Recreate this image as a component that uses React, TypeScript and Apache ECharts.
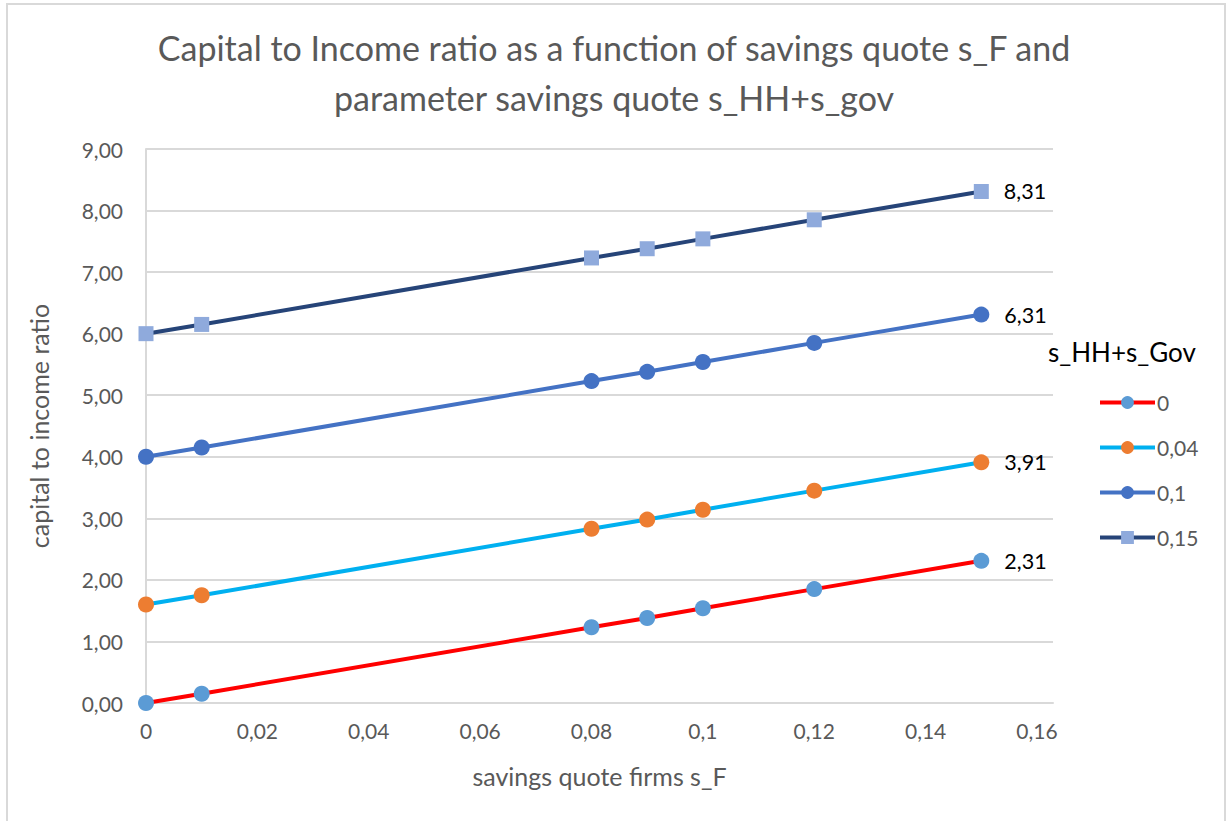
import React, { useEffect, useRef } from "react";
import * as echarts from "echarts";

const xValues = [0, 0.01, 0.08, 0.09, 0.1, 0.12, 0.15];
const xTicks = [0, 0.02, 0.04, 0.06, 0.08, 0.1, 0.12, 0.14, 0.16];
const seriesNames = ["0", "0,04", "0,1", "0,15"];
const s0 = [0, 0.15, 1.23, 1.38, 1.54, 1.85, 2.31];
const s004 = [1.6, 1.75, 2.83, 2.98, 3.14, 3.45, 3.91];
const s01 = [4.0, 4.15, 5.23, 5.38, 5.54, 5.85, 6.31];
const s015 = [6.0, 6.15, 7.23, 7.38, 7.54, 7.85, 8.31];
const seriesValues = [s0, s004, s01, s015];
const lineColors = ["#FF0000", "#00B0F0", "#4472C4", "#264478"];
const markerColors = ["#5B9BD5", "#ED7D31", "#4472C4", "#8FAADC"];
const symbols = ["circle", "circle", "circle", "rect"];

const FONT = "Lato, 'Open Sans', sans-serif";

export default function App() {
  const ref = useRef<HTMLDivElement>(null);
  useEffect(() => {
    if (!ref.current) return;
    const chart = echarts.init(ref.current, null, { renderer: "svg" });
    const series = seriesValues.map((vals, si) => ({
      name: seriesNames[si],
      type: "line",
      symbol: symbols[si],
      symbolSize: si === 3 ? 15 : 16,
      lineStyle: { color: lineColors[si], width: 4 },
      itemStyle: { color: markerColors[si] },
      z: 2 + si,
      data: vals.map((v, i) => {
        const item: any = { value: [xValues[i], v] };
        if (i === vals.length - 1) {
          item.label = {
            show: true,
            position: "right",
            distance: 15,
            formatter: () => v.toFixed(2).replace(".", ","),
            fontSize: 21.5,
            color: "#000",
            fontFamily: FONT,
          };
        }
        return item;
      }),
    }));
    const xLast = xTicks[xTicks.length - 1];
    chart.setOption({
      animation: false,
      backgroundColor: "#fff",
      textStyle: { fontFamily: FONT },
      title: {
        text: "Capital to Income ratio as a function of savings quote s_F and\nparameter savings quote s_HH+s_gov",
        left: "center",
        top: 17,
        textStyle: {
          fontSize: 34,
          fontWeight: "normal",
          color: "#595959",
          lineHeight: 50,
          fontFamily: FONT,
        },
      },
      graphic: [
        {
          type: "polyline",
          shape: { points: [[7, 830], [7, 4], [1225, 4], [1225, 830]] },
          style: { stroke: "#D9D9D9", lineWidth: 2, fill: "none" },
          silent: true,
        },
        {
          type: "text",
          left: 1048,
          top: 339,
          style: {
            text: "s_HH+s_Gov",
            fontSize: 26,
            fill: "#000",
            fontFamily: FONT,
          },
        },
      ],
      legend: {
        orient: "vertical",
        left: 1093,
        top: 387,
        itemWidth: 55,
        itemHeight: 16,
        itemGap: 24,
        lineStyle: { width: 4 },
        data: seriesNames,
        textStyle: { fontSize: 21, color: "#595959", fontFamily: FONT, padding: [0, 0, 0, -3] },
      },
      grid: { left: 146, right: 175, top: 149, bottom: 118 },
      xAxis: {
        type: "value",
        min: 0,
        max: xLast * (907 / 891),
        interval: 0.02,
        name: "savings quote firms s_F",
        nameLocation: "middle",
        nameGap: 60,
        nameTextStyle: { fontSize: 25, color: "#595959" },
        axisLine: { show: true, lineStyle: { color: "#D9D9D9", width: 2 } },
        axisTick: { show: false },
        splitLine: { show: false },
        axisLabel: {
          fontSize: 21,
          color: "#595959",
          margin: 17,
          showMaxLabel: false,
          formatter: (v: number) => {
            const r = Number(v.toFixed(4));
            if (!xTicks.some((t) => Math.abs(t - r) < 1e-6)) return "";
            return String(r).replace(".", ",");
          },
        },
      },
      yAxis: {
        type: "value",
        min: 0,
        max: 9,
        interval: 1,
        name: "capital to income ratio",
        nameLocation: "middle",
        nameGap: 95,
        nameTextStyle: { fontSize: 25, color: "#595959" },
        axisLine: { show: true, lineStyle: { color: "#D9D9D9", width: 2 } },
        axisTick: { show: false },
        splitLine: { show: true, lineStyle: { color: "#D9D9D9", width: 2 } },
        axisLabel: {
          fontSize: 21,
          color: "#595959",
          margin: 23,
          formatter: (v: number) => v.toFixed(2).replace(".", ","),
        },
      },
      series,
    });
    return () => chart.dispose();
  }, []);
  return (
    <div
      ref={ref}
      style={{ position: "absolute", left: 0, top: 0, width: 1228, height: 821 }}
    />
  );
}
